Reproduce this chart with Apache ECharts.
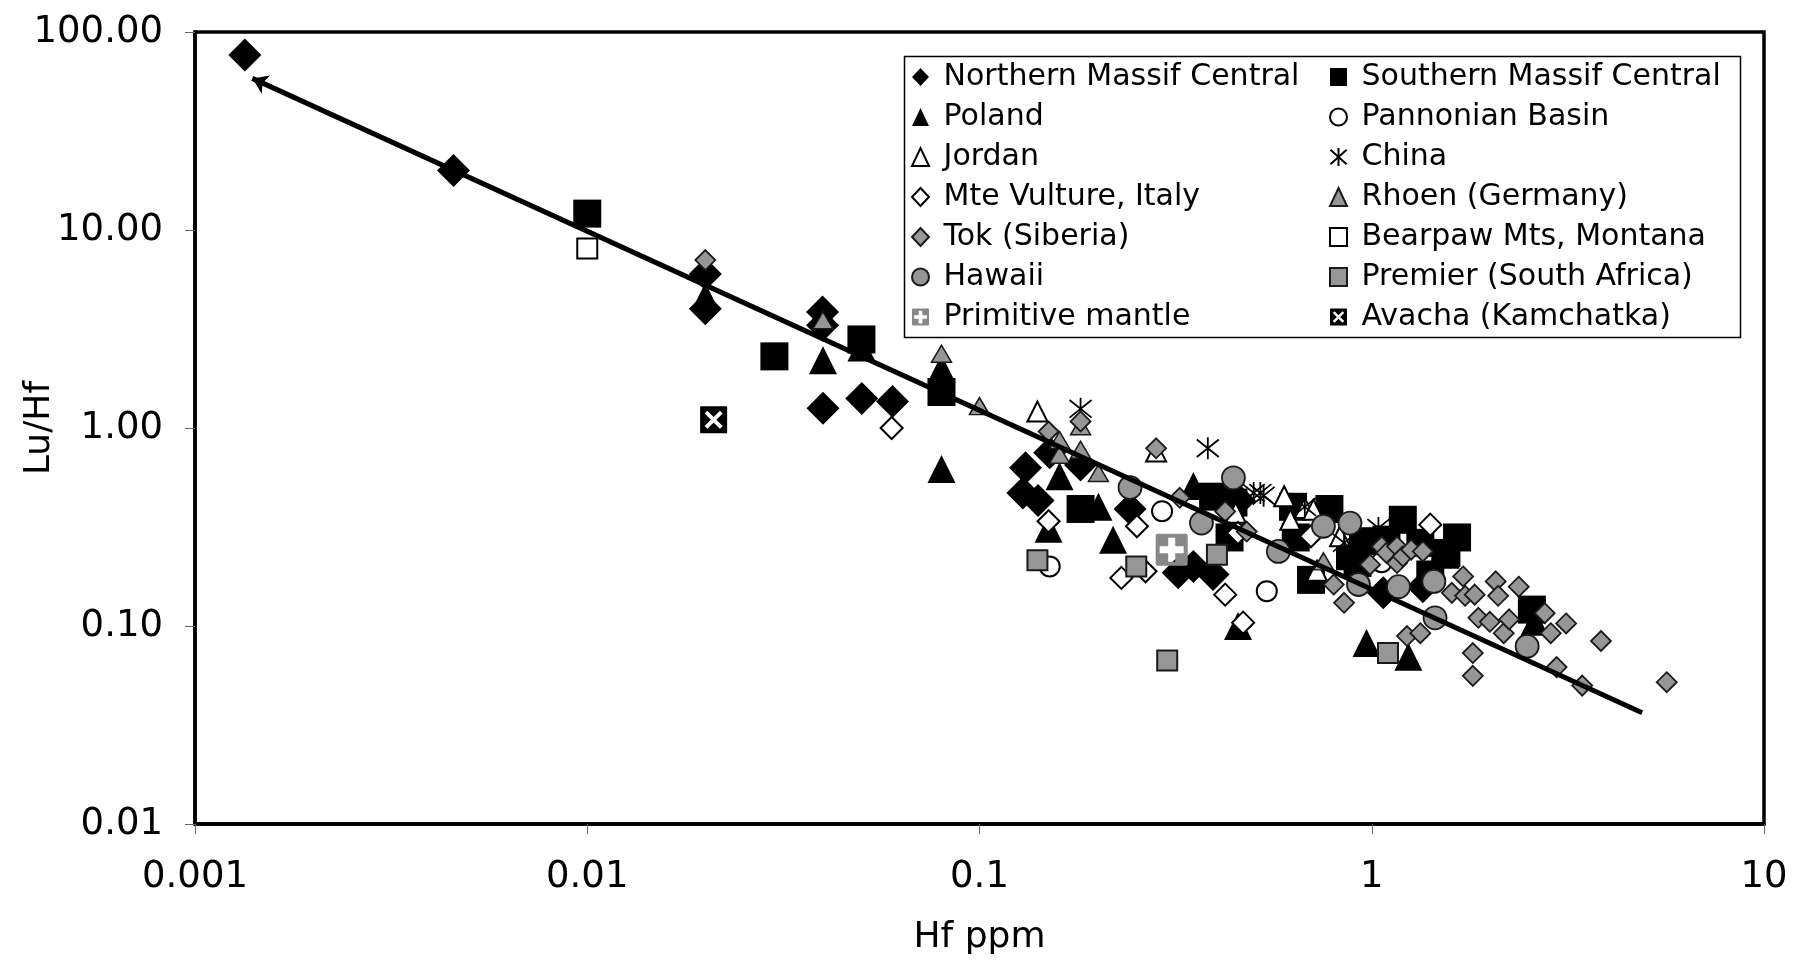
<!DOCTYPE html>
<html><head><meta charset="utf-8">
<script src="https://cdn.jsdelivr.net/npm/echarts@6/dist/echarts.min.js"></script>
<style>html,body{margin:0;padding:0;background:#fff}#chart{width:1795px;height:962px}</style>
</head><body><div id="chart"></div>
<script>
// ---- data (Hf ppm, Lu/Hf) ----
const xTicks = [0.001, 0.01, 0.1, 1, 10];
const yTicks = [0.01, 0.1, 1, 10, 100];

const northernMassifCentral = [[0.00134,76.5],[0.00456,20],[0.02,6.0],[0.02,4.0],[0.0398,3.85],[0.0398,3.3],[0.0399,1.26],[0.0501,1.41],[0.06,1.36],[0.131,0.63],[0.129,0.47],[0.141,0.43],[0.151,0.75],[0.181,0.65],[0.242,0.39],[0.321,0.186],[0.351,0.20],[0.394,0.182],[0.46,0.43],[1.07,0.147],[1.35,0.158]];
const southernMassifCentral = [[0.01,12.1],[0.03,2.3],[0.05,2.8],[0.08,1.52],[0.181,0.39],[0.394,0.45],[0.444,0.42],[0.434,0.28],[0.63,0.40],[0.78,0.39],[0.64,0.28],[0.88,0.225],[0.70,0.171],[0.95,0.268],[1.09,0.273],[1.2,0.344],[1.33,0.263],[1.55,0.234],[1.65,0.28],[0.92,0.208],[1.41,0.182],[1.54,0.229],[2.56,0.121]];
const poland = [[0.02,4.6],[0.0399,2.2],[0.05,2.55],[0.08,2.0],[0.08,1.85],[0.08,0.62],[0.16,0.57],[0.201,0.40],[0.219,0.273],[0.15,0.31],[0.351,0.51],[0.456,0.10],[0.97,0.082],[1.24,0.07],[2.6,0.105]];
const pannonianBasin = [[0.151,0.2],[0.292,0.38],[0.54,0.15],[1.06,0.21]];
const jordan = [[0.1405,1.21],[0.282,0.76],[0.45,0.373],[0.598,0.452],[0.62,0.344],[0.675,0.394],[0.71,0.387],[0.83,0.284],[0.725,0.19]];
const china = [[0.181,1.25],[0.382,0.79],[0.50,0.47],[0.52,0.47],[0.53,0.455],[0.675,0.40],[0.85,0.263],[1.04,0.313]];
const mteVulture = [[0.0597,1.0],[0.15,0.338],[0.252,0.319],[0.23,0.175],[0.265,0.189],[0.423,0.144],[0.456,0.295],[0.47,0.104],[0.70,0.284],[1.41,0.325]];
const rhoen = [[0.0399,3.5],[0.08,2.37],[0.1,1.29],[0.181,1.02],[0.16,0.87],[0.16,0.733],[0.181,0.777],[0.201,0.593],[0.753,0.212]];
const tok = [[0.02,7.05],[0.15,0.96],[0.181,1.08],[0.282,0.79],[0.324,0.444],[0.423,0.379],[0.48,0.30],[0.80,0.162],[0.85,0.131],[0.99,0.204],[1.06,0.252],[1.09,0.234],[1.16,0.252],[1.16,0.208],[1.16,0.158],[1.2,0.225],[1.26,0.243],[1.35,0.238],[1.23,0.089],[1.33,0.092],[1.6,0.147],[1.71,0.178],[1.73,0.142],[1.83,0.144],[1.87,0.11],[1.81,0.073],[1.81,0.056],[2.0,0.105],[2.07,0.168],[2.1,0.142],[2.17,0.092],[2.24,0.108],[2.37,0.158],[2.76,0.116],[2.86,0.092],[2.96,0.062],[3.13,0.103],[3.44,0.05],[3.84,0.084],[5.65,0.052]];
const bearpaw = [[0.01,8.07]];
const hawaii = [[0.242,0.50],[0.368,0.331],[0.444,0.56],[0.578,0.238],[0.753,0.319],[0.88,0.331],[0.925,0.162],[1.17,0.158],[1.44,0.168],[1.45,0.11],[2.49,0.079]];
const premier = [[0.1405,0.215],[0.251,0.2],[0.301,0.067],[0.403,0.229],[1.1,0.073]];
const primitiveMantle = [[0.309,0.243]];
const avacha = [[0.021,1.1]];
const trendLine = [[0.0014,58.3],[4.89,0.0365]];

// ---- styling ----
const FONT = 'DejaVu Sans';
const GRAY = '#969696', EDGE = '#1a1a1a';
const asteriskPath = 'path://M10,0 L10,20 M1,2 L19,18 M1,18 L19,2';
const pmPath = 'path://M2,0 L30,0 Q32,0 32,2 L32,30 Q32,32 30,32 L2,32 Q0,32 0,30 L0,2 Q0,0 2,0 Z M12.5,4 L12.5,12.5 L4,12.5 L4,19.5 L12.5,19.5 L12.5,28 L19.5,28 L19.5,19.5 L28,19.5 L28,12.5 L19.5,12.5 L19.5,4 Z';
const avachaPath = 'path://M1,0 L29,0 Q30,0 30,1 L30,29 Q30,30 29,30 L1,30 Q0,30 0,29 L0,1 Q0,0 1,0 Z M8,5 L5,8 L12,15 L5,22 L8,25 L15,18 L22,25 L25,22 L18,15 L25,8 L22,5 L15,12 Z';

function sc(name, data, symbol, size, fill, border, bw) {
  return {
    name, type: 'scatter', data, symbol, symbolSize: size,
    itemStyle: { color: fill, borderColor: border || fill, borderWidth: bw || 0, opacity: 1 },
    emphasis: { disabled: true }
  };
}

const series = [
  sc('Northern Massif Central', northernMassifCentral, 'diamond', 33, '#000'),
  sc('Southern Massif Central', southernMassifCentral, 'rect', 28, '#000'),
  sc('Poland', poland, 'triangle', 28, '#000'),
  sc('Pannonian Basin', pannonianBasin, 'circle', 20, '#fff', '#000', 2),
  sc('Jordan', jordan, 'triangle', 20, '#fff', '#000', 2),
  sc('China', china, asteriskPath, 22, 'rgba(0,0,0,0)', '#000', 1.8),
  sc('Mte Vulture, Italy', mteVulture, 'diamond', 22, '#fff', '#000', 2),
  sc('Rhoen (Germany)', rhoen, 'triangle', [20, 17], GRAY, EDGE, 1.5),
  sc('Tok (Siberia)', tok, 'diamond', 20, GRAY, EDGE, 1.8),
  sc('Bearpaw Mts, Montana', bearpaw, 'rect', 20, '#fff', '#000', 2),
  sc('Hawaii', hawaii, 'circle', 23, GRAY, EDGE, 1.8),
  sc('Premier (South Africa)', premier, 'rect', 20, GRAY, EDGE, 2),
  sc('Primitive mantle', primitiveMantle, pmPath, 32, '#888'),
  sc('Avacha (Kamchatka)', avacha, avachaPath, 27, '#000'),
  {
    name: 'trend', type: 'lines', coordinateSystem: 'cartesian2d',
    data: [{ coords: trendLine }],
    symbol: ['arrow', 'none'], symbolSize: 15,
    lineStyle: { color: '#000', width: 5, opacity: 1, curveness: 0 },
    silent: true, z: 5
  }
];

const col1 = ['Northern Massif Central','Poland','Jordan','Mte Vulture, Italy','Tok (Siberia)','Hawaii','Primitive mantle'];
const col2 = ['Southern Massif Central','Pannonian Basin','China','Rhoen (Germany)','Bearpaw Mts, Montana','Premier (South Africa)','Avacha (Kamchatka)'];

function legendCol(data, left) {
  return {
    data, orient: 'vertical', left, top: 57, itemGap: 0,
    itemWidth: 17, itemHeight: 18, selectedMode: false, padding: 0,
    formatter: n => ' ' + n,
    textStyle: { fontFamily: FONT, fontSize: 30, color: '#000', lineHeight: 40 }
  };
}

const pow10 = v => Math.round(Math.log10(v));
const option = {
  animation: false,
  backgroundColor: '#fff',
  textStyle: { fontFamily: FONT },
  grid: { left: 195, right: 31, top: 32, bottom: 138, outerBoundsMode: 'none', containLabel: false,
    show: true, borderColor: '#000', borderWidth: 3.5, backgroundColor: 'transparent' },
  xAxis: {
    type: 'log', logBase: 10, min: xTicks[0], max: xTicks[xTicks.length - 1], interval: 1,
    name: 'Hf ppm', nameLocation: 'middle', nameGap: 96, nameMoveOverlap: false,
    nameTextStyle: { fontFamily: FONT, fontSize: 36, color: '#000' },
    axisLine: { lineStyle: { color: '#000', width: 3.5 } },
    axisTick: { show: true, length: 10, lineStyle: { color: '#666', width: 1 } },
    minorTick: { show: false }, splitLine: { show: false },
    axisLabel: { fontFamily: FONT, fontSize: 37, color: '#000', margin: 35,
      formatter: v => { const e = pow10(v); return e >= 0 ? String(Math.pow(10, e)) : Math.pow(10, e).toFixed(-e); } }
  },
  yAxis: {
    type: 'log', logBase: 10, min: yTicks[0], max: yTicks[yTicks.length - 1], interval: 1,
    name: 'Lu/Hf', nameLocation: 'middle', nameGap: 137, nameRotate: 90, nameMoveOverlap: false,
    nameTextStyle: { fontFamily: FONT, fontSize: 36, color: '#000' },
    axisLine: { lineStyle: { color: '#000', width: 3.5 } },
    axisTick: { show: true, length: 10, lineStyle: { color: '#666', width: 1 } },
    minorTick: { show: false }, splitLine: { show: false },
    axisLabel: { fontFamily: FONT, fontSize: 37, color: '#000', margin: 32,
      formatter: v => Math.pow(10, pow10(v)).toFixed(2) }
  },
  legend: [legendCol(col1, 911), legendCol(col2, 1329)],
  graphic: [{
    type: 'rect', left: 902, top: 54, z: 100,
    shape: { width: 836, height: 281 },
    style: { fill: 'none', stroke: '#000', lineWidth: 1.5 }
  }],
  series
};

const chart = echarts.init(document.getElementById('chart'), null, { renderer: 'canvas' });
chart.setOption(option);
</script></body></html>
